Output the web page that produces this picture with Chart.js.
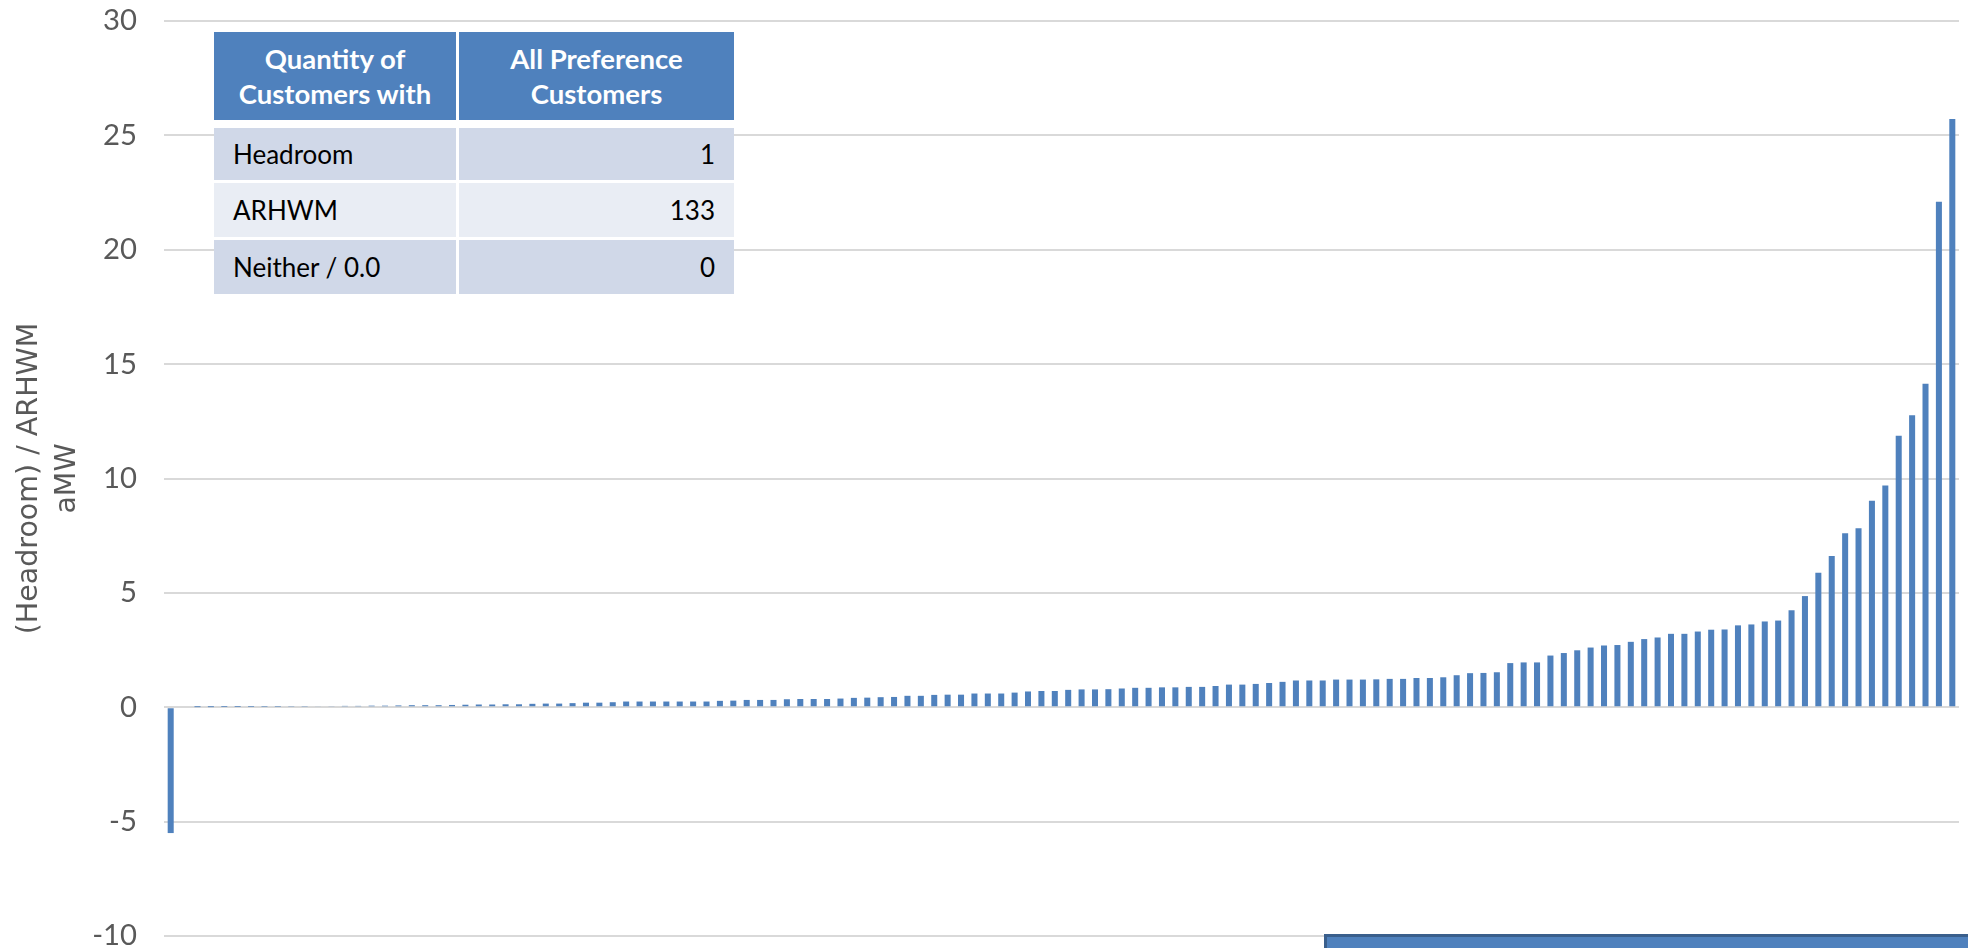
<!DOCTYPE html>
<html>
<head>
<meta charset="utf-8">
<script src="https://cdn.jsdelivr.net/npm/chart.js@4/dist/chart.umd.min.js"></script>
<style>
  html, body { margin: 0; padding: 0; background: #ffffff; }
  #wrap { position: relative; width: 1968px; height: 948px; overflow: hidden; background: #ffffff; }
  #c { position: absolute; left: 0; top: 0; }
  #tbl { position: absolute; left: 214px; top: 32px; width: 520px; height: 262px; background: #ffffff; }
  .cell { position: absolute; box-sizing: border-box; font-family: Lato, "Open Sans", sans-serif; display: flex; align-items: center; }
  .hdr { background: #4F81BD; color: #ffffff; font-weight: bold; font-size: 27.5px; line-height: 35px; justify-content: center; text-align: center; }
  .lab { color: #000000; font-size: 26px; padding-left: 19px; justify-content: flex-start; }
  .num { color: #000000; font-size: 26px; padding-right: 19px; justify-content: flex-end; }
  .dark { background: #D0D8E8; }
  .light { background: #E9EDF4; }
  #box { position: absolute; left: 1324px; top: 934px; width: 660px; height: 30px; box-sizing: border-box;
         background: #4F81BD; border-top: 3px solid #3A5F8C; border-left: 3px solid #3A5F8C; }
</style>
</head>
<body>
<div id="wrap">
  <canvas id="c" width="1968" height="948"></canvas>
  <div id="tbl"></div>
  <div id="box"></div>
</div>
<script>
// ---- data ----
const headroomValues = [
  -5.5,
  0.00, 0.005, 0.005, 0.01, 0.01, 0.015, 0.02, 0.02, 0.03, 0.03,
  0.04, 0.05, 0.06, 0.06, 0.07, 0.07, 0.08, 0.09, 0.09, 0.09,
  0.10, 0.11, 0.12, 0.12, 0.13, 0.13, 0.15, 0.16, 0.16, 0.18,
  0.20, 0.20,
  0.22, 0.25, 0.25, 0.25, 0.25, 0.25, 0.25, 0.25, 0.28, 0.29,
  0.32, 0.32, 0.32, 0.35, 0.36, 0.36, 0.36, 0.38, 0.41, 0.42,
  0.44, 0.45, 0.50, 0.50, 0.54, 0.55, 0.55, 0.60, 0.60, 0.60,
  0.64, 0.69, 0.71,
  0.71, 0.76, 0.78, 0.78, 0.79, 0.82, 0.85, 0.85, 0.87, 0.87,
  0.89, 0.89, 0.93, 0.99, 0.99, 1.02, 1.06, 1.11, 1.17, 1.17,
  1.17, 1.21, 1.21, 1.21, 1.22, 1.24, 1.24, 1.28, 1.28, 1.31,
  1.40, 1.49, 1.50, 1.53,
  1.93, 1.96, 1.96, 2.26, 2.37, 2.49, 2.61, 2.70, 2.72, 2.86,
  2.98, 3.05, 3.21, 3.21, 3.31, 3.39, 3.40, 3.58, 3.62, 3.75,
  3.79, 4.24, 4.86, 5.88, 6.61, 7.61, 7.82, 9.03, 9.69, 11.87,
  12.76, 14.14, 22.10, 25.72
];
const customerLabels = headroomValues.map((v, i) => 'Customer ' + (i + 1));
const yTickValues = [-10, -5, 0, 5, 10, 15, 20, 25, 30];
const axisTitleLines = ['(Headroom) / ARHWM', 'aMW'];

const tableHeaders = ['Quantity of<br>Customers with', 'All Preference<br>Customers'];
const tableRowLabels = ['Headroom', 'ARHWM', 'Neither / 0.0'];
const tableRowCounts = [1, 133, 0];

// ---- table overlay ----
(function buildTable() {
  const tbl = document.getElementById('tbl');
  const colX = [0, 245];
  const colW = [242, 275];
  const hdrTop = 0, hdrH = 88;
  const rowTops = [96, 151, 208];
  const rowHs = [52, 54, 54];
  tableHeaders.forEach((h, c) => {
    const d = document.createElement('div');
    d.className = 'cell hdr';
    d.style.left = colX[c] + 'px'; d.style.top = hdrTop + 'px';
    d.style.width = colW[c] + 'px'; d.style.height = hdrH + 'px';
    d.innerHTML = '<span>' + h + '</span>';
    tbl.appendChild(d);
  });
  tableRowLabels.forEach((lab, r) => {
    const shade = r % 2 === 0 ? 'dark' : 'light';
    const a = document.createElement('div');
    a.className = 'cell lab ' + shade;
    a.style.left = colX[0] + 'px'; a.style.top = rowTops[r] + 'px';
    a.style.width = colW[0] + 'px'; a.style.height = rowHs[r] + 'px';
    a.textContent = lab;
    tbl.appendChild(a);
    const b = document.createElement('div');
    b.className = 'cell num ' + shade;
    b.style.left = colX[1] + 'px'; b.style.top = rowTops[r] + 'px';
    b.style.width = colW[1] + 'px'; b.style.height = rowHs[r] + 'px';
    b.textContent = String(tableRowCounts[r]);
    tbl.appendChild(b);
  });
})();

// ---- chart ----
const ctx = document.getElementById('c').getContext('2d');
new Chart(ctx, {
  type: 'bar',
  data: {
    labels: customerLabels,
    datasets: [{
      data: headroomValues,
      backgroundColor: '#4F81BD',
      borderWidth: 0,
      barPercentage: 0.45,
      categoryPercentage: 1.0
    }]
  },
  options: {
    responsive: false,
    animation: false,
    layout: { padding: { top: 21, right: 9, bottom: 12, left: 0 } },
    plugins: { legend: { display: false }, tooltip: { enabled: false } },
    scales: {
      x: { display: false, offset: true },
      y: {
        min: -10,
        max: 30,
        afterBuildTicks: (scale) => { scale.ticks = yTickValues.map(v => ({ value: v })); },
        afterFit: (scale) => { scale.width = 164; },
        ticks: {
          padding: 0,
          color: '#595959',
          font: { family: 'Lato', size: 29.3, lineHeight: 0.78 }
        },
        grid: { color: '#D9D9D9', lineWidth: 2, drawTicks: true, tickLength: 27, tickColor: 'rgba(0,0,0,0)' },
        border: { display: false },
        title: {
          display: true,
          text: axisTitleLines,
          color: '#595959',
          font: { family: '"DejaVu Sans"', size: 28.5, lineHeight: 1.33 },
          padding: { top: 11, bottom: 0 }
        }
      }
    }
  }
});
</script>
</body>
</html>
